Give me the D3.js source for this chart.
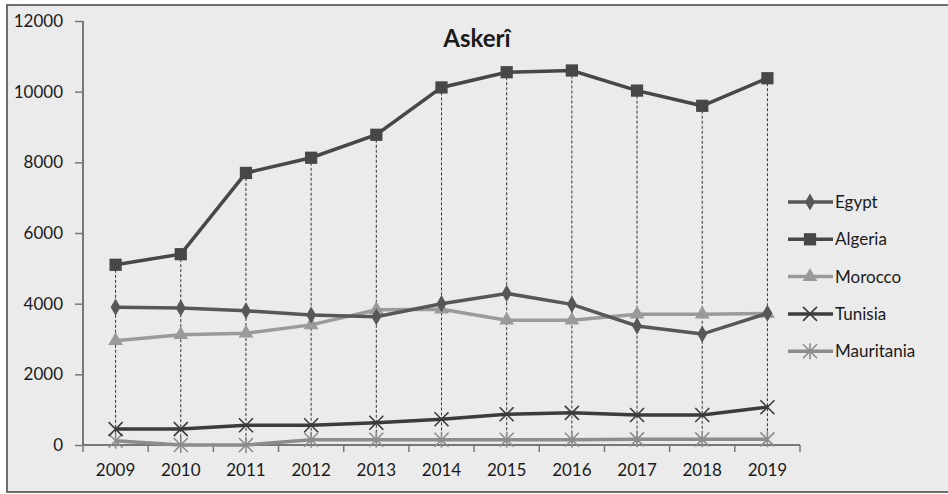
<!DOCTYPE html>
<html>
<head>
<meta charset="utf-8">
<script src="https://d3js.org/d3.v7.min.js"></script>
<style>
  body { margin: 0; background: #fff; }
  text { font-family: Lato, "Open Sans", sans-serif; fill: #1a1a1a; }
</style>
</head>
<body>
<div id="vis"></div>
<script>
  // values
  var years = ['2009', '2010', '2011', '2012', '2013', '2014', '2015', '2016', '2017', '2018', '2019'];
  var yTicks = [0, 2000, 4000, 6000, 8000, 10000, 12000];

  var egypt = [3900, 3880, 3800, 3680, 3630, 4000, 4290, 3980, 3370, 3140, 3730];
  var algeria = [5100, 5400, 7700, 8130, 8780, 10120, 10550, 10600, 10030, 9600, 10380];
  var morocco = [2950, 3120, 3160, 3400, 3830, 3840, 3530, 3530, 3700, 3700, 3720];
  var tunisia = [450, 450, 560, 560, 630, 730, 870, 910, 850, 850, 1070];
  var mauritania = [120, 0, 0, 150, 150, 150, 150, 150, 160, 160, 160];

  var series = [
    { name: 'Egypt', values: egypt, color: '#575757', marker: 'diamond' },
    { name: 'Algeria', values: algeria, color: '#474747', marker: 'square' },
    { name: 'Morocco', values: morocco, color: '#9a9a9a', marker: 'triangle' },
    { name: 'Tunisia', values: tunisia, color: '#3c3c3c', marker: 'cross' },
    { name: 'Mauritania', values: mauritania, color: '#8c8c8c', marker: 'star' }
  ];

  var width = 948, height = 494;

  var svg = d3.select('#vis')
    .append('svg')
    .attr('width', width)
    .attr('height', height);

  // chart area frame
  svg.append('rect')
    .attr('x', 7).attr('y', 5)
    .attr('width', 950).attr('height', 487)
    .style('fill', '#ebebeb')
    .style('stroke', '#6e6e6e')
    .style('stroke-width', 2);

  var x = d3.scaleBand()
    .domain(years)
    .range([83, 800]);

  var y = d3.scaleLinear()
    .domain([0, 12000])
    .range([445, 21]);

  // title
  svg.append('text')
    .attr('x', 477).attr('y', 47)
    .attr('text-anchor', 'middle')
    .style('font-size', '24px')
    .style('font-weight', 'bold')
    .text('Askerî');

  // drop lines from the highest point down to the axis
  svg.append('g').selectAll('line')
    .data(years)
    .enter()
    .append('line')
    .attr('x1', function(d) { return x(d) + x.bandwidth() / 2; })
    .attr('x2', function(d) { return x(d) + x.bandwidth() / 2; })
    .attr('y1', function(d, i) {
      return y(d3.max(series, function(s) { return s.values[i]; }));
    })
    .attr('y2', y(0))
    .style('stroke', '#333')
    .style('stroke-width', 1)
    .style('stroke-dasharray', '3,2');

  // y axis
  var yAxis = svg.append('g')
    .attr('transform', 'translate(83,0)')
    .call(d3.axisLeft(y).tickValues(yTicks).tickSize(8).tickPadding(12).tickFormat(d3.format('d')));
  yAxis.select('.domain').style('stroke', '#777').style('stroke-width', 2).attr('d', 'M0,' + y(12000) + 'V' + y(0));
  yAxis.selectAll('.tick line').style('stroke', '#777').style('stroke-width', 1.5);
  yAxis.selectAll('.tick text').style('font-size', '17px').style('font-family', 'Lato, sans-serif').style('fill', '#1a1a1a');

  // x axis
  var xAxis = svg.append('g')
    .attr('transform', 'translate(0,' + y(0) + ')')
    .call(d3.axisBottom(x).tickSize(0).tickPadding(19));
  xAxis.select('.domain').style('stroke', '#777').style('stroke-width', 2).attr('d', 'M83,0H800');
  xAxis.selectAll('.tick text').style('font-size', '17px').style('font-family', 'Lato, sans-serif').style('fill', '#1a1a1a');

  // tick marks at band edges
  xAxis.append('g').selectAll('line')
    .data(years.concat(['end']))
    .enter()
    .append('line')
    .attr('x1', function(d, i) { return x.range()[0] + i * x.step(); })
    .attr('x2', function(d, i) { return x.range()[0] + i * x.step(); })
    .attr('y1', 0).attr('y2', 7)
    .style('stroke', '#777')
    .style('stroke-width', 1.5);

  function markerPath(type) {
    if (type === 'diamond') return d3.symbol().type(d3.symbolDiamond).size(85)();
    if (type === 'square') return d3.symbol().type(d3.symbolSquare).size(150)();
    if (type === 'triangle') return d3.symbol().type(d3.symbolTriangle).size(95)();
    if (type === 'cross') return 'M-7,-7L7,7M-7,7L7,-7';
    return 'M-7,-7L7,7M-7,7L7,-7M0,-8V8';
  }

  var line = d3.line()
    .x(function(d, i) { return x(years[i]) + x.bandwidth() / 2; })
    .y(function(d) { return y(d); });

  var groups = svg.append('g').selectAll('g')
    .data(series.slice().reverse())
    .enter()
    .append('g');

  groups.append('path')
    .attr('d', function(s) { return line(s.values); })
    .style('fill', 'none')
    .style('stroke', function(s) { return s.color; })
    .style('stroke-width', 3.5);

  groups.each(function(s) {
    var filled = s.marker !== 'cross' && s.marker !== 'star';
    d3.select(this).selectAll('path.m')
      .data(s.values)
      .enter()
      .append('path')
      .attr('class', 'm')
      .attr('transform', function(d, i) {
        return 'translate(' + (x(years[i]) + x.bandwidth() / 2) + ',' + y(d) + ')';
      })
      .attr('d', markerPath(s.marker))
      .style('fill', filled ? s.color : 'none')
      .style('stroke', s.color)
      .style('stroke-width', filled ? 0 : 1.6);
  });

  // legend
  var legend = svg.append('g').selectAll('g')
    .data(series)
    .enter()
    .append('g')
    .attr('transform', function(d, i) { return 'translate(788,' + (202 + i * 37.3) + ')'; });

  legend.append('line')
    .attr('x1', 0).attr('x2', 45)
    .style('stroke', function(s) { return s.color; })
    .style('stroke-width', 3.5);

  legend.append('path')
    .attr('transform', 'translate(22,0)')
    .attr('d', function(s) { return markerPath(s.marker); })
    .style('fill', function(s) { return (s.marker === 'cross' || s.marker === 'star') ? 'none' : s.color; })
    .style('stroke', function(s) { return s.color; })
    .style('stroke-width', function(s) { return (s.marker === 'cross' || s.marker === 'star') ? 1.6 : 0; });

  legend.append('text')
    .attr('x', 47).attr('dy', '0.35em')
    .style('font-size', '17px')
    .text(function(s) { return s.name; });
</script>
</body>
</html>
